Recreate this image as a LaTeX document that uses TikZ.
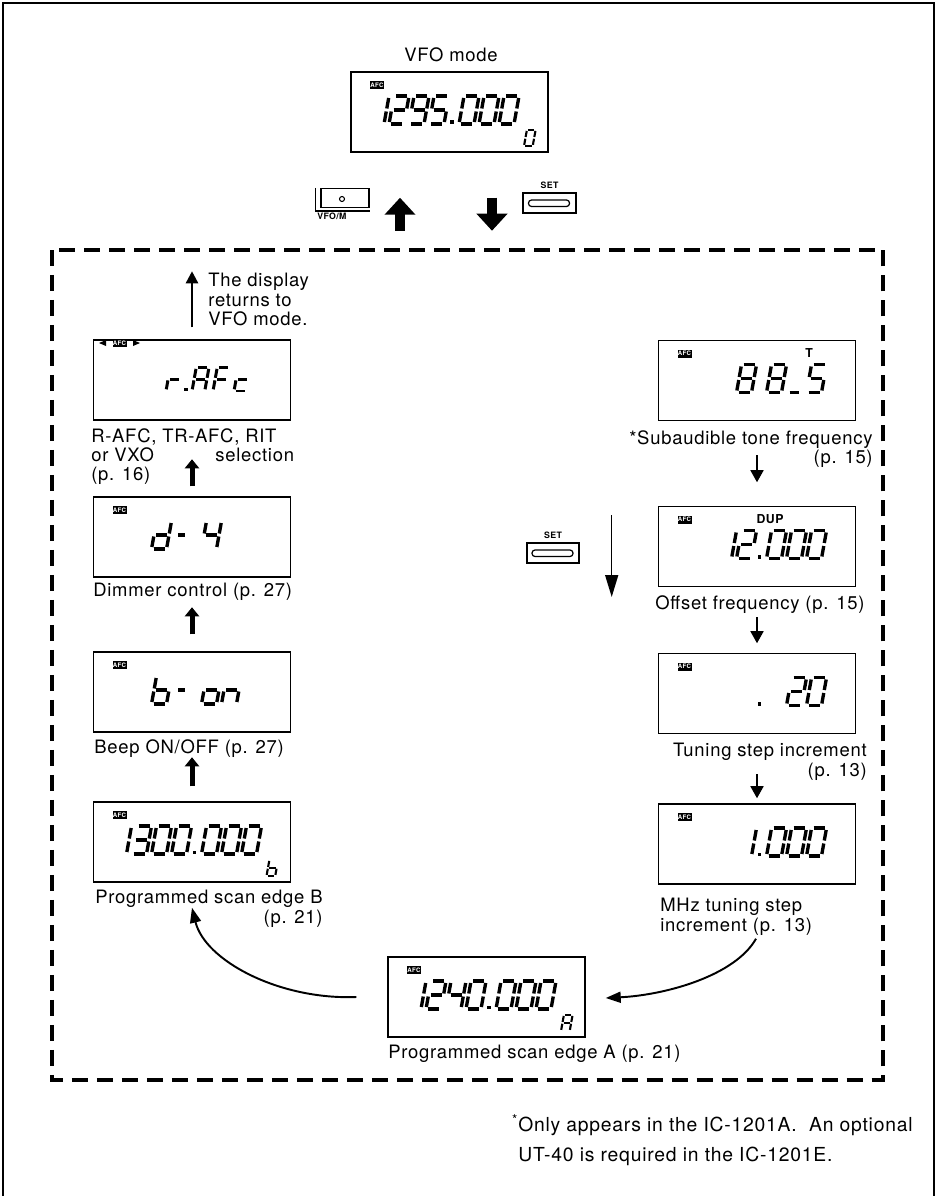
\documentclass[tikz,border=0pt]{standalone}
\usepackage{fontspec}
\setmainfont{TeX Gyre Heros}[LetterSpace=4]
\usetikzlibrary{arrows.meta, positioning, calc}

% seven-segment pieces (px units, y pointing down)
\def\lcdpa{(2,-28) -- (13,-28)}
\def\lcdpb{(15,-26) -- (15,-15.5)}
\def\lcdpc{(15,-12.5) -- (15,-2)}
\def\lcdpd{(2,0) -- (13,0)}
\def\lcdpe{(0,-2) -- (0,-12.5)}
\def\lcdpf{(0,-15.5) -- (0,-26)}
\def\lcdpg{(2,-14) -- (13,-14)}
\def\lcdph{(4,-14) -- (11,-14)}
\def\lcdpu{(3,0) -- (12,0)}

% characters as segment lists
\def\sgZero{a,b,c,d,e,f}
\def\sgOne{b,c}
\def\sgTwo{a,b,g,e,d}
\def\sgThree{a,b,g,c,d}
\def\sgFour{f,g,b,c}
\def\sgFive{a,f,g,c,d}
\def\sgEight{a,b,c,d,e,f,g}
\def\sgNine{a,b,c,d,f,g}
\def\sgA{a,b,c,e,f,g}
\def\sgF{a,e,f,g}
\def\sgLr{e,g}
\def\sgLc{g,e,d}
\def\sgLd{b,c,d,e,g}
\def\sgLb{c,d,e,f,g}
\def\sgLo{c,d,e,g}
\def\sgLn{c,e,g}
\def\sgDash{h}
\def\sgLow{u}

\newcommand{\lcd}[3][]{%
  \begin{scope}[shift={(#2)}, xslant=0.18, #1]
    \foreach \s in #3 {
      \expandafter\let\expandafter\lcdcur\csname lcdp\s\endcsname
      \draw[lcdseg] \lcdcur;
    }
  \end{scope}}
\newcommand{\lcdpt}{\fill (0.5,12) rectangle (4,8.5);}

\tikzset{
  frame/.style={line width=1.1pt},
  dashbox/.style={line width=1.9pt, dash pattern=on 0.32cm off 0.18cm},
  lcdbox/.style={draw, line width=0.85pt, minimum width=3.94cm, minimum height=1.6cm, inner sep=0pt},
  lcdseg/.style={line width=1.9pt},
  smallchar/.style={scale=0.58, lcdseg/.style={line width=1.2pt}},
  menuchar/.style={scale=0.85, lcdseg/.style={line width=1.7pt}},
  afc/.style={fill=black, text=white, inner sep=0pt, minimum width=0.28cm, minimum height=0.16cm,
    font=\fontsize{3.5}{3.5}\selectfont\bfseries},
  tag/.style={font=\fontsize{7}{7}\selectfont\bfseries, inner sep=0pt},
  keytag/.style={font=\fontsize{5}{5}\selectfont\bfseries, inner sep=0pt},
  lbl/.style={font=\fontsize{10.5}{11}\selectfont, inner sep=0pt},
  notefont/.style={font=\fontsize{11}{17}\selectfont, inner sep=0pt},
  key/.style={draw, line width=0.8pt, inner sep=0pt},
  bigarrow/.style={line width=0.2cm, -{Triangle[width=0.6cm,length=0.34cm]}},
  midarrow/.style={line width=0.1cm, -{Triangle[width=0.28cm,length=0.18cm]}},
  retarrow/.style={line width=1.4pt, -{Triangle[width=0.24cm,length=0.24cm]}},
  thinarrow/.style={line width=0.9pt, -{Triangle[width=0.26cm,length=0.24cm]}},
  longarrow/.style={line width=0.9pt, -{Triangle[width=0.26cm,length=0.44cm]}},
  curvearrow/.style={line width=1.1pt, -{Triangle[width=0.22cm,length=0.3cm]}},
}

\begin{document}
\begin{tikzpicture}[x=0.02cm, y=-0.02cm]
    \useasboundingbox (0,0) rectangle (937,1196);

    % outer frame, open at the bottom
    \draw[frame] (3,1196) -- (3,3) -- (934,3) -- (934,1196);

    % VFO mode display
    \node[lbl] (vfolbl) at (451,55) {VFO mode};
    \node[lcdbox] (vfo) at (449.5,112) {};
    \begin{scope}[shift={(vfo.center)}]
        \node[afc] (vfoafc) at (-72.5,-27) {AFC};
        \lcd{-80.5,12}{\sgOne} \lcd{-60.5,12}{\sgTwo}
        \lcd{-40.5,12}{\sgNine} \lcd{-20.5,12}{\sgFive} \lcdpt
        \lcd{9.5,12}{\sgZero} \lcd{29.5,12}{\sgZero} \lcd{49.5,12}{\sgZero}
        \lcd[smallchar]{74.5,34}{\sgZero}
    \end{scope}

    % VFO/M and SET keys with the big arrows
    \node[key, minimum width=0.96cm, minimum height=0.38cm] (vfom) at (345,198) {};
    \draw[key] ($(vfom.north west)+(-5,0)$) |- ($(vfom.south east)+(0,3)$);
    \draw[line width=0.6pt] ($(vfom.center)+(-3,1)$) circle (0.05cm);
    \node[keytag, anchor=west] (vfomlbl) at (317,216) {VFO/M};

    \node[key, minimum width=1.06cm, minimum height=0.4cm] (set1) at (549.5,203) {};
    \draw[line width=0.7pt, rounded corners=0.06cm] ($(set1.center)+(-21,-3)$) rectangle ($(set1.center)+(20,3.5)$);
    \node[keytag, above=0.06cm of set1] (set1lbl) {SET};

    \coordinate (upA) at ($(vfo.south)+(-49.5,78)$);
    \coordinate (upB) at ($(vfo.south)+(-49.5,45)$);
    \coordinate (dnA) at ($(vfo.south)+(42.5,45)$);
    \coordinate (dnB) at ($(vfo.south)+(42.5,78)$);
    \draw[bigarrow] (upA) -- (upB);
    \draw[bigarrow] (dnA) -- (dnB);

    % dashed set mode area
    \draw[dashbox] (52,250) rectangle (883,1080);

    % LEFT column
    \node[lbl, anchor=north west, align=left] (retlbl) at (208,273) {The display\\returns to\\VFO mode.};
    \node[lcdbox] (rafc) at (192,380) {};
    \begin{scope}[shift={(rafc.center)}]
        \fill (-93,-37) -- (-86,-40) -- (-86,-34) -- cycle;
        \node[afc] (rafcafc) at (-72.5,-37) {AFC};
        \fill (-52,-37) -- (-59,-40) -- (-59,-34) -- cycle;
        \lcd[menuchar]{-26,11}{\sgLr}
        \fill (-8,11) rectangle (-4.5,7.5);
        \lcd[menuchar]{0,11}{\sgA} \lcd[menuchar]{21,11}{\sgF} \lcd[menuchar]{42,11}{\sgLc}
    \end{scope}
    \node[lbl, anchor=north west, align=left] (rafclbl) at (91,428)
        {R-AFC, TR-AFC, RIT\\\makebox[2.48cm][l]{or VXO}selection\\(p. 16)};

    \node[lcdbox] (dimmer) at (192,537) {};
    \begin{scope}[shift={(dimmer.center)}]
        \node[afc] (dimmerafc) at (-72.5,-27) {AFC};
        \lcd{-40.5,12}{\sgLd} \lcd{-20.5,12}{\sgDash} \lcd{9.5,12}{\sgFour}
    \end{scope}
    \node[lbl, anchor=base west] (dimmerlbl) at (93,596.5) {Dimmer control (p. 27)};

    \node[lcdbox] (beep) at (192,692) {};
    \begin{scope}[shift={(beep.center)}]
        \node[afc] (beepafc) at (-72.5,-27) {AFC};
        \lcd{-40.5,12}{\sgLb} \lcd{-20.5,12}{\sgDash}
        \lcd{9.5,12}{\sgLo} \lcd{29.5,12}{\sgLn}
    \end{scope}
    \node[lbl, anchor=base west] (beeplbl) at (94,753.5) {Beep ON/OFF (p. 27)};

    \node[lcdbox] (edgeB) at (192,842) {};
    \begin{scope}[shift={(edgeB.center)}]
        \node[afc] (edgeBafc) at (-72.5,-27) {AFC};
        \lcd{-80.5,12}{\sgOne} \lcd{-60.5,12}{\sgThree}
        \lcd{-40.5,12}{\sgZero} \lcd{-20.5,12}{\sgZero} \lcdpt
        \lcd{9.5,12}{\sgZero} \lcd{29.5,12}{\sgZero} \lcd{49.5,12}{\sgZero}
        \lcd[smallchar]{74.5,34}{\sgLb}
    \end{scope}
    \node[lbl, anchor=north east, align=right] (edgeBlbl) at (323,890) {Programmed scan edge B\\(p. 21)};

    \draw[retarrow] ($(rafc.north)+(0,-12)$) -- ($(rafc.north)+(0,-68)$);
    \draw[midarrow] ($(dimmer.north)+(0,-10)$) -- ($(dimmer.north)+(0,-37)$);
    \draw[midarrow] ($(beep.north)+(0,-17)$) -- ($(beep.north)+(0,-44)$);
    \draw[midarrow] ($(edgeB.north)+(0,-15)$) -- ($(edgeB.north)+(0,-44)$);

    % BOTTOM: scan edge A
    \node[lcdbox] (edgeA) at (486.5,997) {};
    \begin{scope}[shift={(edgeA.center)}]
        \node[afc] (edgeAafc) at (-72.5,-27) {AFC};
        \lcd{-80.5,12}{\sgOne} \lcd{-60.5,12}{\sgTwo}
        \lcd{-40.5,12}{\sgFour} \lcd{-20.5,12}{\sgZero} \lcdpt
        \lcd{9.5,12}{\sgZero} \lcd{29.5,12}{\sgZero} \lcd{49.5,12}{\sgZero}
        \lcd[smallchar]{74.5,34}{\sgA}
    \end{scope}
    \node[lbl, anchor=base west] (edgeAlbl) at (388,1058) {Programmed scan edge A (p. 21)};

    % RIGHT column
    \node[lcdbox] (tone) at (757,380.5) {};
    \begin{scope}[shift={(tone.center)}]
        \node[afc] (toneafc) at (-72.5,-27) {AFC};
        \node[tag] (tonet) at (52,-27.5) {T};
        \lcd{-20.5,12}{\sgEight} \lcd{9.5,12}{\sgEight}
        \lcd{29.5,12}{\sgLow} \lcd{49.5,12}{\sgFive}
    \end{scope}
    \node[lbl, anchor=north east, align=right] (tonelbl) at (873,430) {*Subaudible tone frequency\\(p. 15)};

    \node[lcdbox] (offset) at (757,546.5) {};
    \begin{scope}[shift={(offset.center)}]
        \node[afc] (offsetafc) at (-72.5,-27) {AFC};
        \node[tag] (offsetdup) at (13,-27.5) {DUP};
        \lcd{-40.5,12}{\sgOne} \lcd{-20.5,12}{\sgTwo} \lcdpt
        \lcd{9.5,12}{\sgZero} \lcd{29.5,12}{\sgZero} \lcd{49.5,12}{\sgZero}
    \end{scope}
    \node[lbl, anchor=base west] (offsetlbl) at (655,609.5) {Offset frequency (p. 15)};

    \node[lcdbox] (tstep) at (757,693.5) {};
    \begin{scope}[shift={(tstep.center)}]
        \node[afc] (tstepafc) at (-72.5,-27) {AFC};
        \lcdpt
        \lcd{29.5,12}{\sgTwo} \lcd{49.5,12}{\sgZero}
    \end{scope}
    \node[lbl, anchor=north east, align=right] (tsteplbl) at (867,743) {Tuning step increment\\(p. 13)};

    \node[lcdbox] (mhz) at (757,844) {};
    \begin{scope}[shift={(mhz.center)}]
        \node[afc] (mhzafc) at (-72.5,-27) {AFC};
        \lcd{-20.5,12}{\sgOne} \lcdpt
        \lcd{9.5,12}{\sgZero} \lcd{29.5,12}{\sgZero} \lcd{49.5,12}{\sgZero}
    \end{scope}
    \node[lbl, anchor=north west, align=left] (mhzlbl) at (660,898) {MHz tuning step\\increment (p. 13)};

    \draw[thinarrow] ($(tone.south)+(0,34)$) -- ($(tone.south)+(0,61)$);
    \draw[thinarrow] ($(offset.south)+(0,30)$) -- ($(offset.south)+(0,56)$);
    \draw[thinarrow] ($(tstep.south)+(0,40)$) -- ($(tstep.south)+(0,64)$);

    % SET key beside the right column
    \node[key, minimum width=1.04cm, minimum height=0.4cm] (set2) at (553,553) {};
    \draw[line width=0.7pt, rounded corners=0.06cm] ($(set2.center)+(-21,-3)$) rectangle ($(set2.center)+(20,3.5)$);
    \node[keytag, above=0.06cm of set2] (set2lbl) {SET};
    \draw[longarrow] ($(set2.east)+(32,-38)$) -- ($(set2.east)+(32,44)$);

    % curved arrows round the bottom
    \coordinate (aout) at ($(edgeA.west)+(-31,0)$);
    \coordinate (bin) at ($(edgeB.south)+(0,25)$);
    \draw[curvearrow] (aout) .. controls +(-77,3) and +(13,53) .. (bin);
    \coordinate (mout) at ($(mhz.south)+(-1,54)$);
    \coordinate (ain) at ($(edgeA.east)+(20,1)$);
    \draw[curvearrow] (mout) .. controls +(-21,37) and +(60,-3) .. (ain);

    % footnote
    \node[notefont, anchor=north east, align=left] (note) at (913,1114)
        {\llap{\textsuperscript{*}}Only appears in the IC-1201A.\ \ An optional\\UT-40 is required in the IC-1201E.};
\end{tikzpicture}
\end{document}
